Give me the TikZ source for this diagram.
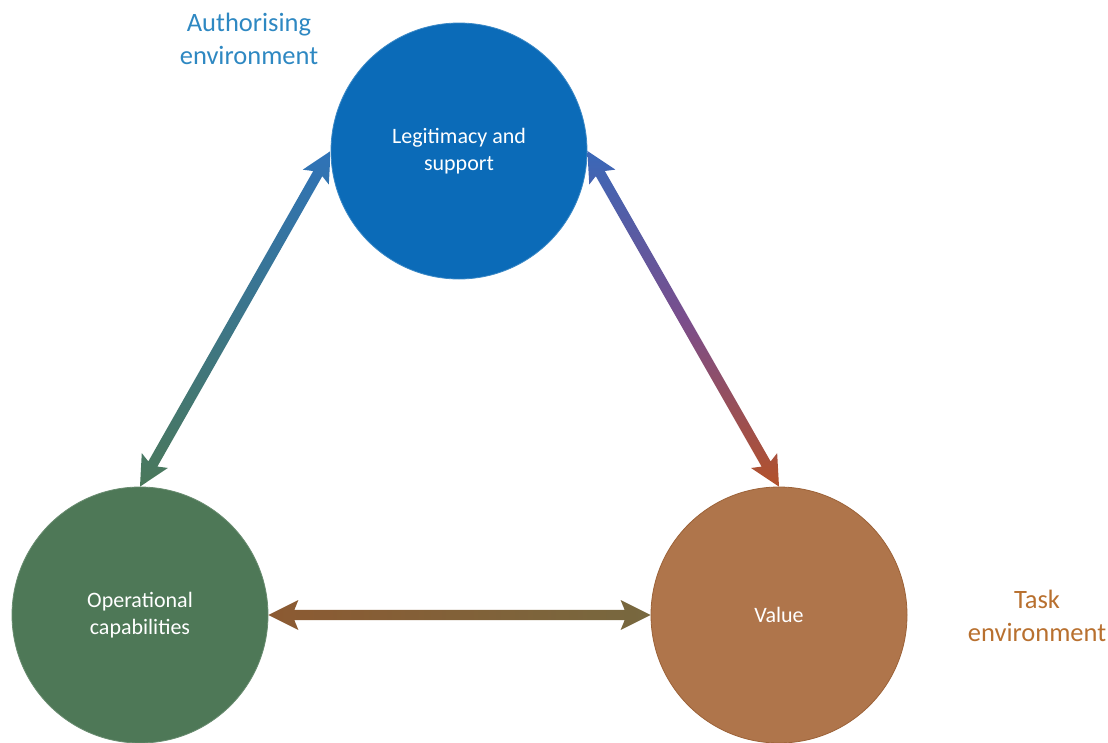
\documentclass[tikz,border=0pt]{standalone}
\usepackage{fontspec}
\setmainfont{Carlito}
\usetikzlibrary{calc}
\definecolor{cblue}{HTML}{0B6BB8}
\definecolor{cgreen}{HTML}{4E7857}
\definecolor{cbrown}{HTML}{AF754B}
\definecolor{cbrownline}{HTML}{9C6238}
\definecolor{tblue}{HTML}{2E88C2}
\definecolor{tbrown}{HTML}{B8702F}
\definecolor{abluel}{HTML}{2F73B8}
\definecolor{agreen}{HTML}{4A785A}
\definecolor{ablue2}{HTML}{3A68B8}
\definecolor{apurple}{HTML}{7A4E8C}
\definecolor{ared}{HTML}{B3512A}
\definecolor{hbrown}{HTML}{8C5A32}
\definecolor{holive}{HTML}{77683F}
\newcommand{\gradarrow}[3]{%
  \coordinate (ga1) at ($(#1)!30pt!(#2)$);
  \coordinate (gb1) at ($(#1)!26pt!(#2)$);
  \coordinate (ga2) at ($(#2)!30pt!(#1)$);
  \coordinate (gb2) at ($(#2)!26pt!(#1)$);
  \shade[#3] (#1) -- ($(ga1)!15pt!90:(#2)$) -- ($(gb1)!5.2pt!90:(#2)$)
    -- ($(gb2)!5.2pt!-90:(#1)$) -- ($(ga2)!15pt!-90:(#1)$) -- (#2)
    -- ($(ga2)!15pt!90:(#1)$) -- ($(gb2)!5.2pt!90:(#1)$)
    -- ($(gb1)!5.2pt!-90:(#2)$) -- ($(ga1)!15pt!-90:(#2)$) -- cycle;}
\begin{document}
\begin{tikzpicture}[x=1pt,y=-1pt,
  bigcircle/.style={circle, minimum size=256pt, inner sep=0pt, text=white,
    font=\fontsize{22pt}{27pt}\selectfont, align=center},
  envlabel/.style={font=\fontsize{26.5pt}{33pt}\selectfont, align=center}]
\useasboundingbox (0,0) rectangle (1108,742);
\node[bigcircle, fill=cblue, draw=cblue!80!white, line width=0.8pt] (legit) at (459,151) {Legitimacy and\\support};
\node[bigcircle, fill=cgreen, draw=cgreen!85!white, line width=0.8pt] (oper) at (140,615) {Operational\\capabilities};
\node[bigcircle, fill=cbrown, draw=cbrownline, line width=0.8pt] (value) at (779,615) {Value};
\node[envlabel, text=tblue] (auth) at (249,39) {Authorising\\environment};
\node[envlabel, text=tbrown] (task) at (1037,616) {Task\\environment};
\coordinate (lw) at (legit.west);
\coordinate (le) at (legit.east);
\coordinate (on) at (oper.north);
\coordinate (oe) at (oper.east);
\coordinate (vn) at (value.north);
\coordinate (vw) at (value.west);
\gradarrow{lw}{on}{top color=abluel, bottom color=agreen}
\gradarrow{le}{vn}{top color=ablue2, bottom color=ared, middle color=apurple}
\gradarrow{oe}{vw}{left color=hbrown, right color=holive}
\end{tikzpicture}
\end{document}
